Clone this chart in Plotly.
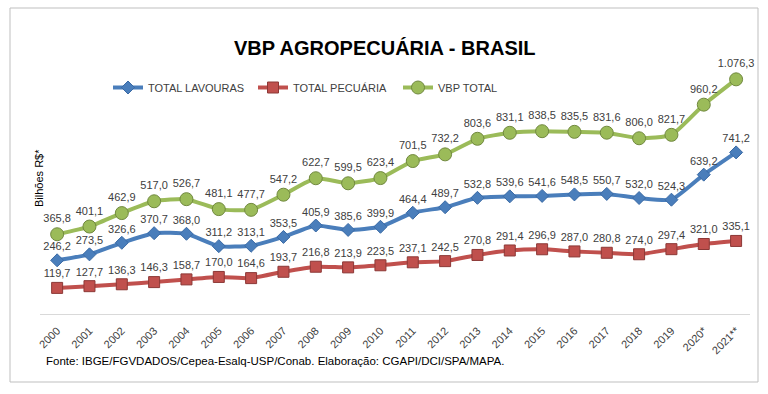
import plotly.graph_objects as go

anos = ["2000", "2001", "2002", "2003", "2004", "2005", "2006", "2007", "2008", "2009",
        "2010", "2011", "2012", "2013", "2014", "2015", "2016", "2017", "2018", "2019",
        "2020*", "2021**"]
lavouras = [246.2, 273.5, 326.6, 370.7, 368.0, 311.2, 313.1, 353.5, 405.9, 385.6,
            399.9, 464.4, 489.7, 532.8, 539.6, 541.6, 548.5, 550.7, 532.0, 524.3,
            639.2, 741.2]
pecuaria = [119.7, 127.7, 136.3, 146.3, 158.7, 170.0, 164.6, 193.7, 216.8, 213.9,
            223.5, 237.1, 242.5, 270.8, 291.4, 296.9, 287.0, 280.8, 274.0, 297.4,
            321.0, 335.1]
vbp_total = [365.8, 401.1, 462.9, 517.0, 526.7, 481.1, 477.7, 547.2, 622.7, 599.5,
             623.4, 701.5, 732.2, 803.6, 831.1, 838.5, 835.5, 831.6, 806.0, 821.7,
             960.2, 1076.3]

FONT = "Liberation Sans"
TXT = "#404040"

# plot area in pixels
L, R, T, B = 40, 750, 60, 314
W, H = 768, 394
def px(x): return (x - L) / (R - L)
def py(y): return (B - y) / (B - T)

fig = go.Figure()
series = [
    ("TOTAL LAVOURAS", lavouras, "#4A7EBB", "diamond", 10, "#3A6AA5"),
    ("TOTAL PECUÁRIA", pecuaria, "#C0504D", "square", 11, "#8C3836"),
    ("VBP TOTAL", vbp_total, "#9BBB59", "circle", 13, "#71893F"),
]
for name, vals, col, sym, size, edge in series:
    fig.add_trace(go.Scatter(
        x=anos, y=vals, name=name, mode="lines+markers+text",
        line=dict(color=col, width=4, shape="spline", smoothing=0.5),
        marker=dict(symbol=sym, size=size, color=col, line=dict(color=edge, width=1)),
        text=vals, texttemplate="%{y:,.1f}", textposition="top center",
        textfont=dict(family=FONT, size=11, color=TXT),
        cliponaxis=False,
    ))

fig.update_layout(
    width=W, height=H,
    margin=dict(l=L, r=W - R, t=T, b=H - B),
    paper_bgcolor="white", plot_bgcolor="white",
    separators=",.",
    showlegend=True,
    legend=dict(orientation="h", x=px(108), y=py(73), xanchor="left", yanchor="top",
                font=dict(family=FONT, size=11, color=TXT), bgcolor="rgba(0,0,0,0)",
                entrywidth=100, itemwidth=30),
    xaxis=dict(type="category", range=[-0.53, 21.43], showline=True, linecolor="#D9D9D9",
               linewidth=1, ticks="outside", ticklen=5, tickcolor="rgba(0,0,0,0)",
               tickangle=-45,
               tickfont=dict(family=FONT, size=11, color=TXT), showgrid=False, zeroline=False),
    yaxis=dict(range=[0, 1165], visible=False, showgrid=False, zeroline=False),
    font=dict(family=FONT, color=TXT),
)

fig.add_annotation(text="<b>VBP AGROPECUÁRIA - BRASIL</b>", xref="paper", yref="paper",
                   x=px(385), y=py(35), showarrow=False,
                   font=dict(family=FONT, size=20, color="#000000"))
fig.add_annotation(text="Bilhões R$*", xref="paper", yref="paper", x=px(31), y=py(178),
                   showarrow=False, textangle=-90,
                   font=dict(family=FONT, size=11, color="#000000"))
fig.add_annotation(text="Fonte: IBGE/FGVDADOS/Cepea-Esalq-USP/Conab. Elaboração: CGAPI/DCI/SPA/MAPA.",
                   xref="paper", yref="paper", x=px(44), y=py(369), xanchor="left",
                   showarrow=False, font=dict(family=FONT, size=11.5, color="#000000"))
fig.add_shape(type="rect", xref="paper", yref="paper", x0=px(10), x1=px(758),
              y0=py(382), y1=py(8), line=dict(color="#BFBFBF", width=1), layer="below")

fig.write_html("out.html", config={"displayModeBar": False},
               post_script="document.body.style.margin='0';")
